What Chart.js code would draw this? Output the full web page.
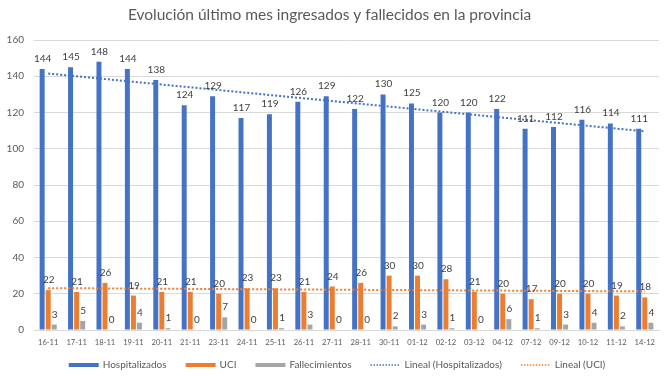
<!DOCTYPE html>
<html>
<head>
<meta charset="utf-8">
<script src="https://cdn.jsdelivr.net/npm/chart.js@4/dist/chart.umd.min.js"></script>
<style>
html,body{margin:0;padding:0;background:#fff;}
#wrap{width:670px;height:376px;position:relative;}
</style>
</head>
<body>
<div id="wrap"><canvas id="c" width="670" height="376"></canvas></div>
<script>
const categories = ['16-11','17-11','18-11','19-11','20-11','21-11','23-11','24-11','25-11','26-11','27-11','28-11','30-11','01-12','02-12','03-12','04-12','07-12','09-12','10-12','11-12','14-12'];
const hospitalizados = [144,145,148,144,138,124,129,117,119,126,129,122,130,125,120,120,122,111,112,116,114,111];
const uci = [22,21,26,19,21,21,20,23,23,21,24,26,30,30,28,21,20,17,20,20,19,18];
const fallecimientos = [3,5,0,4,1,0,7,0,1,3,0,0,2,3,1,0,6,1,3,4,2,4];
// trend line endpoints (first and last category)
const trendHospitalizados = [141.5,null,null,null,null,null,null,null,null,null,null,null,null,null,null,null,null,null,null,null,null,109.6];
const trendUCI = [23.1,null,null,null,null,null,null,null,null,null,null,null,null,null,null,null,null,null,null,null,null,21.3];
const yTicks = [0,20,40,60,80,100,120,140,160];

const BLUE = '#4472C4', ORANGE = '#ED7D31', GRAY = '#A5A5A5';
const TXT = '#595959';
const FONT = 'Lato, "Open Sans", sans-serif';

const legendItems = [
  {text:'Hospitalizados', color:BLUE, type:'box'},
  {text:'UCI', color:ORANGE, type:'box'},
  {text:'Fallecimientos', color:GRAY, type:'box'},
  {text:'Lineal (Hospitalizados)', color:BLUE, type:'line'},
  {text:'Lineal (UCI)', color:ORANGE, type:'line'}
];

const labelPlugin = {
  id:'barLabels',
  afterDatasetsDraw(chart){
    const ctx = chart.ctx;
    ctx.save();
    ctx.font = '10px ' + FONT;
    ctx.fillStyle = '#404040';
    ctx.textAlign = 'center';
    ctx.textBaseline = 'alphabetic';
    chart.data.datasets.forEach((ds, i) => {
      if (ds.type !== 'bar') return;
      const meta = chart.getDatasetMeta(i);
      meta.data.forEach((el, j) => {
        const v = ds.data[j];
        if (v === null || v === undefined) return;
        ctx.fillText(String(v), el.x + 0.5, el.y - 7);
      });
    });
    ctx.restore();
  }
};

const legendPlugin = {
  id:'customLegend',
  afterDraw(chart){
    const ctx = chart.ctx;
    ctx.save();
    ctx.font = '10px ' + FONT;
    const boxW = 30, gapBox = 4, gapItem = 19;
    const widths = legendItems.map(it => boxW + gapBox + ctx.measureText(it.text).width);
    const total = widths.reduce((a,b)=>a+b,0) + gapItem*(legendItems.length-1);
    let x = 337 - total/2;
    const y = 365;
    legendItems.forEach((it, k) => {
      if (it.type === 'box') {
        ctx.fillStyle = it.color;
        ctx.fillRect(x, y - 2, boxW, 4);
      } else {
        ctx.strokeStyle = it.color;
        ctx.lineWidth = 1.5;
        ctx.setLineDash([1.5,1.5]);
        ctx.beginPath();
        ctx.moveTo(x, y);
        ctx.lineTo(x + boxW, y);
        ctx.stroke();
        ctx.setLineDash([]);
      }
      ctx.fillStyle = TXT;
      ctx.textAlign = 'left';
      ctx.textBaseline = 'middle';
      ctx.fillText(it.text, x + boxW + gapBox, y);
      x += widths[k] + gapItem;
    });
    ctx.restore();
  }
};

new Chart(document.getElementById('c'), {
  data: {
    labels: categories,
    datasets: [
      {type:'line', label:'Lineal (Hospitalizados)', data:trendHospitalizados, borderColor:BLUE, borderWidth:2, borderDash:[2,2], pointRadius:0, spanGaps:true, order:0},
      {type:'line', label:'Lineal (UCI)', data:trendUCI, borderColor:ORANGE, borderWidth:2, borderDash:[2,2], pointRadius:0, spanGaps:true, order:0},
      {type:'bar', label:'Hospitalizados', data:hospitalizados, backgroundColor:BLUE, order:1},
      {type:'bar', label:'UCI', data:uci, backgroundColor:ORANGE, order:1},
      {type:'bar', label:'Fallecimientos', data:fallecimientos, backgroundColor:GRAY, order:1}
    ]
  },
  options: {
    responsive:false,
    animation:false,
    datasets:{bar:{categoryPercentage:0.64, barPercentage:0.82}},
    layout:{padding:{left:0,right:11,top:0,bottom:23}},
    plugins:{
      legend:{display:false},
      tooltip:{enabled:false},
      title:{display:true, text:'Evolución último mes ingresados y fallecidos en la provincia', color:TXT,
        font:{family:FONT, size:15.5, weight:'normal'}, padding:{top:6,bottom:15.4}}
    },
    scales:{
      x:{
        offset:true,
        grid:{display:false, drawTicks:false},
        border:{display:true, color:'#d9d9d9'},
        ticks:{color:TXT, font:{family:FONT, size:7.6}, padding:8, maxRotation:0, autoSkip:false},
        afterFit(s){ s.height = 23; }
      },
      y:{
        min:0, max:160,
        afterBuildTicks(s){ s.ticks = yTicks.map(v => ({value:v})); },
        grid:{color:'#d9d9d9', drawTicks:false},
        border:{display:false},
        ticks:{color:TXT, font:{family:FONT, size:10}, padding:10},
        afterFit(s){ s.width = 34; }
      }
    }
  },
  plugins:[labelPlugin, legendPlugin]
});
</script>
</body>
</html>
